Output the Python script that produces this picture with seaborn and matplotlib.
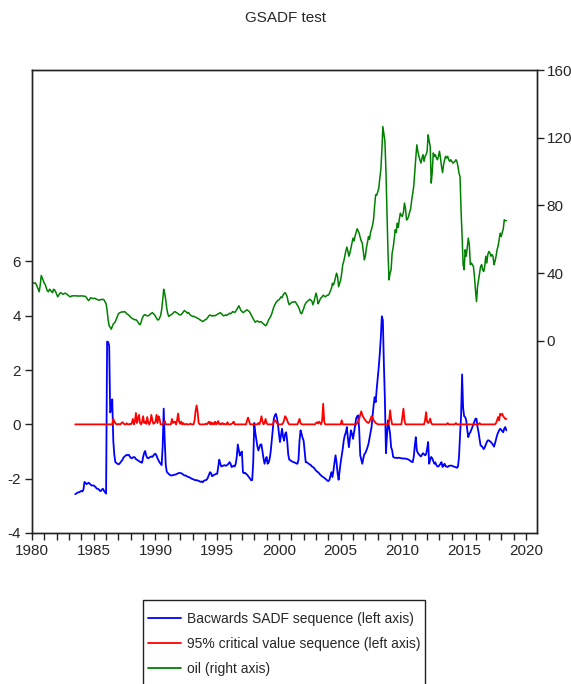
import numpy as np
import pandas as pd
import matplotlib
matplotlib.use('Agg')
import matplotlib.pyplot as plt
from matplotlib.patches import Rectangle
import seaborn as sns

# oil price, monthly Jan 1980 - Jun 2018 (right axis)
oil = [
    34.5, 34.2, 34.0, 34.3, 33.5, 32.0, 30.5, 29.0, 33.0, 38.6, 37.0, 35.5,
    34.0, 33.0, 31.0, 29.5, 29.0, 30.5, 30.0, 29.0, 28.5, 30.5, 30.0, 29.0,
    27.5, 26.0, 27.0, 28.0, 28.5, 28.0, 27.5, 27.8, 28.2, 27.9, 27.5, 27.0,
    26.5, 26.0, 26.3, 26.6, 26.5, 26.7, 26.6, 26.5, 26.6, 26.4, 26.5, 26.5,
    26.6, 26.5, 26.4, 26.4, 26.3, 25.5, 24.5, 23.8, 24.5, 25.5, 25.3, 25.0,
    25.0, 25.2, 24.8, 24.5, 24.3, 24.0, 24.2, 24.5, 24.3, 24.6, 24.2, 23.0,
    22.0, 18.0, 12.4, 8.9, 8.0, 6.9, 8.5, 10.0, 10.5, 11.4, 13.0, 14.5,
    16.0, 16.5, 16.8, 17.0, 17.2, 17.0, 17.3, 16.8, 16.0, 15.6, 15.3, 14.5,
    14.0, 13.4, 13.0, 12.8, 12.4, 12.5, 12.0, 11.0, 10.0, 9.5, 11.0, 13.0,
    14.5, 15.3, 15.5, 15.0, 14.8, 14.8, 15.2, 15.8, 16.3, 16.7, 16.0, 15.5,
    14.5, 13.5, 12.4, 12.4, 13.5, 15.0, 18.3, 24.0, 30.5, 28.0, 24.2, 19.0,
    16.0, 14.4, 15.0, 15.3, 15.8, 16.3, 17.0, 17.3, 16.8, 16.5, 16.0, 15.5,
    15.3, 15.5, 16.2, 17.0, 17.9, 17.5, 17.0, 16.3, 16.8, 16.0, 15.2, 14.8,
    14.4, 14.6, 14.2, 14.0, 13.6, 13.4, 13.0, 12.5, 12.2, 11.8, 11.4, 11.8,
    12.4, 12.6, 13.2, 14.0, 14.8, 15.3, 15.0, 14.6, 15.0, 14.8, 14.9, 15.3,
    15.6, 16.0, 16.3, 16.7, 16.0, 15.5, 14.8, 15.0, 15.3, 15.0, 15.4, 15.8,
    16.3, 16.0, 16.5, 17.3, 17.0, 16.8, 17.5, 18.5, 19.5, 20.7, 19.5, 18.0,
    17.5, 16.7, 17.0, 17.5, 18.0, 18.3, 17.8, 17.5, 16.5, 15.3, 14.0, 13.0,
    12.0, 11.0, 11.5, 11.8, 11.4, 11.0, 11.4, 11.2, 10.5, 10.0, 9.5, 8.9,
    9.5, 11.0, 12.5, 13.4, 14.5, 16.0, 18.0, 20.0, 21.3, 22.5, 23.2, 24.0,
    24.2, 25.0, 26.0, 25.5, 27.0, 28.0, 28.5, 27.5, 26.0, 23.0, 21.3, 22.0,
    22.5, 23.0, 22.8, 23.2, 23.0, 22.0, 21.0, 20.0, 18.5, 16.5, 16.0, 17.5,
    19.0, 21.0, 22.2, 23.0, 23.5, 24.0, 24.6, 24.0, 23.5, 21.3, 23.0, 25.5,
    28.2, 26.0, 21.9, 23.0, 24.5, 25.5, 26.0, 27.0, 26.5, 26.0, 26.5, 27.0,
    27.0, 28.0, 29.5, 31.0, 34.0, 33.0, 35.0, 37.5, 40.0, 38.0, 32.0, 34.0,
    36.0, 40.0, 45.0, 47.0, 50.0, 53.0, 55.4, 53.0, 50.0, 52.0, 55.0, 57.7,
    60.7, 59.0, 62.0, 64.0, 66.2, 65.0, 63.5, 61.0, 59.0, 57.7, 53.0, 47.9,
    50.0, 55.0, 58.0, 61.6, 60.0, 64.0, 66.0, 68.5, 72.0, 80.0, 86.3, 86.0,
    88.0, 90.0, 96.0, 101.0, 112.0, 126.6, 122.0, 117.8, 100.0, 77.0, 52.0, 36.0,
    40.0, 42.0, 51.8, 55.0, 60.0, 65.6, 64.0, 69.5, 67.0, 72.0, 75.4, 74.0,
    73.5, 76.0, 81.4, 78.0, 71.4, 72.0, 73.5, 76.0, 78.0, 83.0, 87.0, 91.2,
    100.0, 108.0, 115.8, 112.0, 109.0, 107.0, 105.0, 108.0, 110.0, 106.0, 109.0, 110.0,
    112.0, 121.7, 118.0, 115.0, 93.2, 100.0, 111.0, 109.0, 110.0, 108.0, 107.0, 109.0,
    112.0, 108.0, 103.0, 99.4, 104.0, 107.0, 109.0, 108.0, 109.0, 107.0, 106.0, 107.0,
    106.0, 105.0, 105.5, 106.0, 107.0, 106.0, 103.0, 99.0, 97.0, 77.0, 62.0, 45.0,
    42.0, 53.8, 50.0, 55.0, 60.7, 57.0, 45.0, 46.0, 45.0, 44.0, 38.0, 30.0,
    23.2, 32.0, 36.0, 40.0, 44.0, 45.0, 42.0, 41.0, 44.0, 50.0, 46.0, 51.0,
    52.8, 52.0, 50.0, 51.0, 50.0, 45.0, 47.0, 50.0, 53.8, 56.0, 60.0, 63.6,
    61.6, 64.0, 66.0, 71.5, 71.0, 71.0,
]

# backwards SADF sequence, monthly Jul 1983 - Jun 2018 (left axis)
bsadf = [
    -2.57, -2.55, -2.52, -2.50, -2.50, -2.47,
    -2.45, -2.47, -2.40, -2.12, -2.15, -2.20, -2.18, -2.15, -2.18, -2.22, -2.25, -2.25,
    -2.25, -2.28, -2.32, -2.37, -2.37, -2.40, -2.45, -2.45, -2.40, -2.37, -2.45, -2.50,
    -2.55, 3.05, 3.03, 2.90, 0.44, 0.55, 0.92, -0.60, -1.12, -1.39, -1.42, -1.45,
    -1.47, -1.45, -1.40, -1.35, -1.30, -1.22, -1.18, -1.15, -1.12, -1.14, -1.12, -1.18,
    -1.23, -1.25, -1.22, -1.20, -1.22, -1.28, -1.30, -1.33, -1.35, -1.38, -1.40, -1.41,
    -1.20, -1.05, -0.98, -1.15, -1.23, -1.25, -1.22, -1.20, -1.18, -1.20, -1.15, -1.10,
    -1.08, -1.15, -1.25, -1.33, -1.40, -1.45, -1.50, -0.80, 0.58, -0.60, -1.50, -1.75,
    -1.79, -1.83, -1.86, -1.88, -1.88, -1.87, -1.86, -1.85, -1.84, -1.82, -1.80, -1.79,
    -1.79, -1.80, -1.82, -1.85, -1.88, -1.88, -1.90, -1.92, -1.94, -1.95, -1.97, -2.00,
    -2.01, -2.03, -2.04, -2.06, -2.05, -2.07, -2.08, -2.10, -2.12, -2.10, -2.13, -2.08,
    -2.06, -2.05, -2.03, -1.95, -1.85, -1.76, -1.80, -1.91, -1.88, -1.86, -1.84, -1.82,
    -1.82, -1.55, -1.30, -1.45, -1.55, -1.53, -1.52, -1.50, -1.52, -1.52, -1.48, -1.45,
    -1.39, -1.45, -1.57, -1.55, -1.52, -1.55, -1.45, -1.20, -0.74, -0.95, -1.15, -1.05,
    -1.00, -1.76, -1.80, -1.78, -1.82, -1.85, -1.90, -1.95, -2.00, -2.06, -2.05, -1.40,
    0.05, -0.30, -0.55, -0.80, -0.96, -0.85, -0.74, -0.74, -1.00, -1.25, -1.45, -1.30,
    -1.20, -1.45, -1.40, -1.26, -1.00, -0.60, -0.16, 0.20, 0.33, 0.39, 0.25, 0.02,
    -0.34, -0.65, -0.40, -0.16, -0.45, -0.60, -0.35, -0.29, -0.60, -1.10, -1.30, -1.32,
    -1.35, -1.37, -1.39, -1.40, -1.42, -1.44, -1.45, -1.30, -0.60, -0.22, -0.35, -0.50,
    -0.60, -1.00, -1.39, -1.40, -1.42, -1.45, -1.48, -1.50, -1.55, -1.57, -1.60, -1.65,
    -1.70, -1.74, -1.76, -1.80, -1.85, -1.88, -1.92, -1.94, -1.97, -2.00, -2.03, -2.07,
    -2.09, -2.05, -1.90, -1.76, -1.94, -1.70, -1.40, -1.14, -1.40, -1.80, -2.04, -1.70,
    -1.40, -1.14, -0.90, -0.59, -0.40, -0.30, -0.10, -0.50, -0.84, -0.50, -0.22, -0.35,
    -0.53, -0.30, -0.05, 0.21, 0.30, 0.33, -0.20, -1.14, -1.30, -1.45, -1.25, -1.10,
    -1.05, -0.96, -0.85, -0.72, -0.50, -0.30, -0.10, 0.30, 0.70, 1.00, 0.82, 1.30,
    1.70, 2.11, 2.60, 3.20, 3.98, 3.83, 2.20, 0.88, -1.06, -0.40, 0.15, -0.10,
    -0.34, -0.84, -0.95, -1.20, -1.22, -1.23, -1.23, -1.24, -1.23, -1.23, -1.24, -1.25,
    -1.25, -1.26, -1.26, -1.26, -1.27, -1.28, -1.30, -1.32, -1.35, -1.38, -1.39, -1.20,
    -0.80, -0.47, -0.96, -1.05, -1.10, -1.15, -1.18, -1.12, -1.06, -1.10, -1.14, -1.10,
    -0.90, -0.65, -1.45, -1.30, -1.20, -1.25, -1.35, -1.45, -1.40, -1.50, -1.55, -1.55,
    -1.50, -1.45, -1.39, -1.57, -1.50, -1.45, -1.55, -1.55, -1.57, -1.53, -1.52, -1.52,
    -1.52, -1.54, -1.55, -1.57, -1.58, -1.60, -1.55, -1.20, -0.40, 0.30, 1.84, 0.60,
    0.30, 0.27, 0.15, -0.20, -0.47, -0.35, -0.29, -0.20, -0.10, 0.00, 0.10, 0.21,
    0.21, -0.10, -0.29, -0.55, -0.78, -0.80, -0.85, -0.91, -0.85, -0.75, -0.65, -0.59,
    -0.59, -0.62, -0.65, -0.70, -0.75, -0.82, -0.70, -0.55, -0.40, -0.30, -0.22, -0.16,
    -0.20, -0.25, -0.29, -0.15, -0.10, -0.22,
]

# 95% critical value sequence, monthly Jul 1983 - Jun 2018 (left axis)
cv95 = [
    0.0, 0.0, 0.0, 0.0, 0.0, 0.0,
    0.0, 0.0, 0.0, 0.0, 0.0, 0.0, 0.0, 0.0, 0.0, 0.0, 0.0, 0.0,
    0.0, 0.0, 0.0, 0.0, 0.0, 0.0, 0.0, 0.0, 0.0, 0.0, 0.0, 0.0,
    0.0, 0.0, 0.0, 0.0, 0.0, 0.0, 0.0, 0.20, 0.10, 0.05, 0.0, 0.0,
    0.02, 0.0, 0.0, 0.05, 0.08, 0.03, 0.0, 0.0, 0.04, 0.0, 0.0, 0.02,
    0.0, 0.05, 0.20, 0.0, 0.10, 0.42, 0.05, 0.20, 0.35, 0.05, 0.0, 0.10,
    0.30, 0.05, 0.10, 0.02, 0.27, 0.05, 0.0, 0.10, 0.35, 0.15, 0.02, 0.05,
    0.10, 0.35, 0.05, 0.30, 0.20, 0.0, 0.0, 0.0, 0.05, 0.12, 0.0, 0.0,
    0.0, 0.0, 0.0, 0.0, 0.20, 0.05, 0.08, 0.10, 0.0, 0.15, 0.40, 0.10,
    0.02, 0.10, 0.0, 0.05, 0.0, 0.0, 0.02, 0.0, 0.0, 0.0, 0.03, 0.0,
    0.0, 0.0, 0.15, 0.50, 0.70, 0.45, 0.05, 0.0, 0.0, 0.0, 0.0, 0.0,
    0.0, 0.03, 0.0, 0.05, 0.10, 0.0, 0.08, 0.0, 0.05, 0.0, 0.10, 0.0,
    0.05, 0.12, 0.0, 0.03, 0.0, 0.05, 0.0, 0.02, 0.0, 0.0, 0.08, 0.0,
    0.0, 0.0, 0.02, 0.05, 0.10, 0.0, 0.0, 0.0, 0.0, 0.0, 0.0, 0.0,
    0.0, 0.0, 0.0, 0.0, 0.0, 0.15, 0.25, 0.12, 0.0, 0.0, 0.0, 0.0,
    0.0, 0.0, 0.0, 0.0, 0.05, 0.0, 0.10, 0.30, 0.12, 0.0, 0.05, 0.20,
    0.05, 0.0, 0.0, 0.0, 0.0, 0.0, 0.0, 0.10, 0.15, 0.12, 0.05, 0.0,
    0.0, 0.0, 0.0, 0.0, 0.05, 0.15, 0.30, 0.25, 0.15, 0.05, 0.0, 0.0,
    0.0, 0.0, 0.0, 0.0, 0.0, 0.0, 0.0, 0.10, 0.20, 0.05, 0.0, 0.0,
    0.0, 0.0, 0.0, 0.0, 0.0, 0.0, 0.0, 0.0, 0.0, 0.0, 0.0, 0.0,
    0.05, 0.08, 0.03, 0.10, 0.05, 0.0, 0.15, 0.76, 0.10, 0.0, 0.0, 0.0,
    0.0, 0.0, 0.0, 0.0, 0.0, 0.0, 0.0, 0.0, 0.0, 0.0, 0.0, 0.0,
    0.0, 0.15, 0.0, 0.0, 0.0, 0.0, 0.0, 0.0, 0.0, 0.0, 0.0, 0.0,
    0.0, 0.0, 0.0, 0.0, 0.05, 0.10, 0.20, 0.35, 0.48, 0.35, 0.27, 0.20,
    0.15, 0.10, 0.08, 0.05, 0.10, 0.20, 0.30, 0.25, 0.15, 0.10, 0.05, 0.03,
    0.0, 0.0, 0.0, 0.0, 0.0, 0.0, 0.0, 0.0, 0.0, 0.0, 0.0, 0.10,
    0.52, 0.20, 0.0, 0.0, 0.0, 0.0, 0.0, 0.0, 0.0, 0.0, 0.0, 0.0,
    0.30, 0.58, 0.15, 0.0, 0.0, 0.0, 0.0, 0.0, 0.0, 0.0, 0.0, 0.0,
    0.0, 0.0, 0.0, 0.0, 0.0, 0.0, 0.0, 0.0, 0.0, 0.0, 0.15, 0.45,
    0.10, 0.05, 0.10, 0.21, 0.05, 0.0, 0.0, 0.0, 0.0, 0.0, 0.0, 0.0,
    0.0, 0.0, 0.0, 0.0, 0.0, 0.0, 0.0, 0.0, 0.05, 0.0, 0.0, 0.0,
    0.0, 0.0, 0.0, 0.0, 0.05, 0.0, 0.0, 0.0, 0.0, 0.0, 0.0, 0.0,
    0.0, 0.0, 0.0, 0.0, 0.0, 0.0, 0.0, 0.0, 0.0, 0.0, 0.0, 0.0,
    0.0, 0.0, 0.0, 0.05, 0.0, 0.0, 0.0, 0.0, 0.0, 0.0, 0.0, 0.0,
    0.0, 0.0, 0.0, 0.0, 0.0, 0.0, 0.0, 0.05, 0.15, 0.27, 0.15, 0.39,
    0.35, 0.39, 0.30, 0.25, 0.20, 0.20,
]

labels = ['Bacwards SADF sequence (left axis)',
          '95% critical value sequence (left axis)',
          'oil (right axis)']
colors = ['#0000ff', '#ff0000', '#008000']

# monthly time index as decimal years
oil_df = pd.DataFrame({'year': 1980 + np.arange(len(oil)) / 12, 'oil': oil})
seq_df = pd.DataFrame({'year': 1983.5 + np.arange(len(bsadf)) / 12,
                       'bsadf': bsadf, 'cv95': cv95})

sns.set_style('ticks')
plt.rcParams['font.family'] = ['Liberation Sans', 'DejaVu Sans']
plt.rcParams['axes.unicode_minus'] = False

W, H = 571, 684
fig = plt.figure(figsize=(W / 100, H / 100), dpi=100)
ax = fig.add_axes([32 / W, 1 - 533 / H, (537 - 32) / W, (533 - 70) / H])
ax2 = ax.twinx()

sns.lineplot(data=seq_df, x='year', y='bsadf', ax=ax, color=colors[0], lw=1.3,
             estimator=None, sort=False)
sns.lineplot(data=seq_df, x='year', y='cv95', ax=ax, color=colors[1], lw=1.3,
             estimator=None, sort=False)
sns.lineplot(data=oil_df, x='year', y='oil', ax=ax2, color=colors[2], lw=1.1,
             estimator=None, sort=False)

ax.set_xlim(1980, 2020.9)
ax.set_ylim(-4, 13.05)
ax2.set_ylim(-113.5, 160)
ax.set_xticks(range(1980, 2021, 5))
ax.set_xticks(range(1980, 2021), minor=True)
ax.set_yticks([-4, -2, 0, 2, 4, 6])
ax2.set_yticks([0, 40, 80, 120, 160])
for a in (ax, ax2):
    a.set_xlabel('')
    a.set_ylabel('')
    for s in a.spines.values():
        s.set_visible(True)
        s.set_color('#222222')
        s.set_linewidth(1.0)
ax.tick_params(axis='x', which='both', length=5, width=1, color='#222222',
               labelsize=11, pad=3)
ax.tick_params(axis='y', length=5, width=1, color='#222222', labelsize=11, pad=3)
ax2.tick_params(axis='y', length=5, width=1, color='#222222', labelsize=11, pad=2)

fig.text(0.5, 1 - 18 / H, 'GSADF test', ha='center', va='center', fontsize=11)

# legend box runs off the bottom edge as in the original export
fig.patches.append(Rectangle((143 / W, 1 - 700 / H), (425 - 143) / W, 100 / H,
                             transform=fig.transFigure, fill=False,
                             edgecolor='#222222', lw=1.0))
handles = [plt.Line2D([], [], color=c, lw=1.3) for c in colors]
fig.legend(handles, labels, loc='upper left',
           bbox_to_anchor=(148 / W, 1 - 612 / H), bbox_transform=fig.transFigure,
           frameon=False, borderaxespad=0, borderpad=0, fontsize=10,
           handlelength=2.4, handletextpad=0.4, labelspacing=0.78)

fig.savefig('out.png', dpi=100)
